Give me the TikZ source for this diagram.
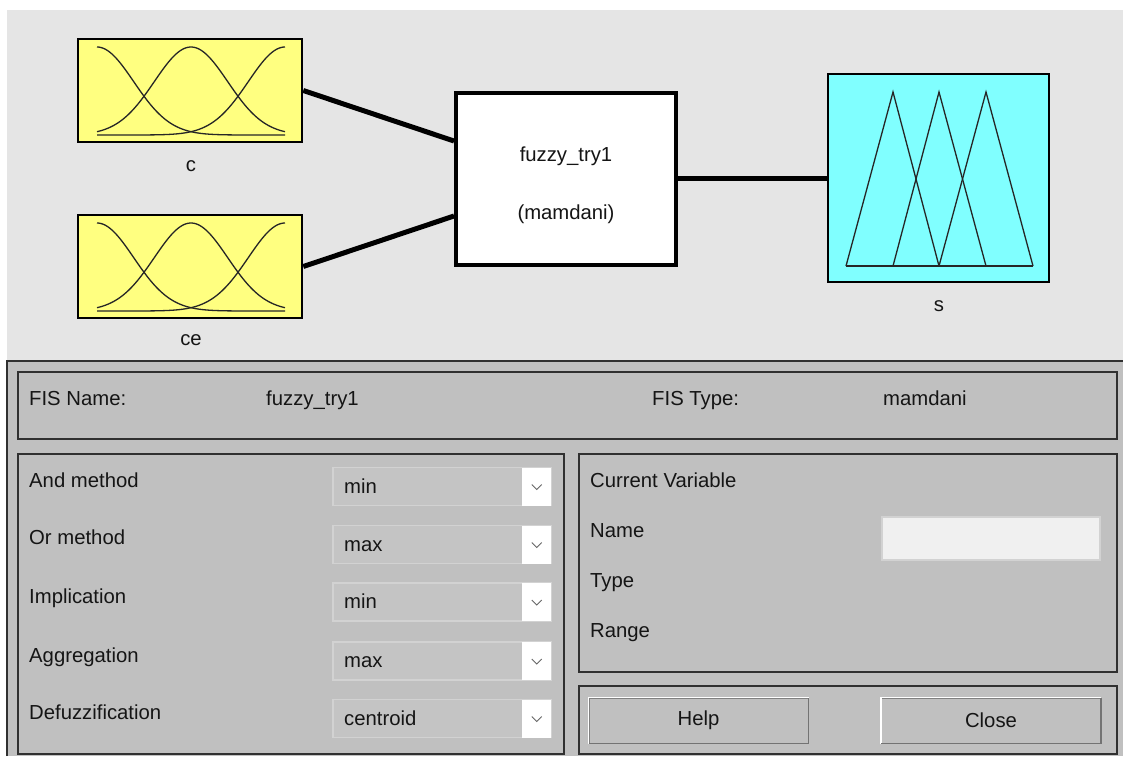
\documentclass[tikz,border=0pt]{standalone}
\usepackage{fontspec}
\setmainfont{Liberation Sans}
\definecolor{topbg}{HTML}{E5E5E5}
\definecolor{panel}{HTML}{C0C0C0}
\definecolor{fyellow}{HTML}{FFFF80}
\definecolor{fcyan}{HTML}{80FFFF}
\definecolor{frame}{HTML}{303030}
\definecolor{combofill}{HTML}{C4C4C4}
\definecolor{comboedge}{HTML}{D2D2D2}
\definecolor{fieldfill}{HTML}{F0F0F0}
\definecolor{txt}{HTML}{151515}
\begin{document}
\begin{tikzpicture}[x=1pt,y=-1pt,
  font=\fontsize{20.3}{23}\selectfont, text=txt,
  varbox/.style={draw=black, line width=2.6pt, inner sep=0pt},
  fisbox/.style={draw=black, line width=4pt, fill=white, inner sep=0pt, align=center},
  conn/.style={line width=5pt, black},
  mf/.style={line width=1.3pt, black!85},
  panelbox/.style={draw=frame, line width=1.6pt, fill=panel, inner sep=0pt},
  combo/.style={draw=comboedge, line width=1.5pt, fill=combofill, inner sep=0pt, minimum width=218pt, minimum height=38pt},
  btn/.style={draw=gray, line width=1pt, fill=panel, inner sep=0pt, minimum width=219pt, minimum height=45pt},
  lbl/.style={anchor=base west, inner sep=0pt},
  captxt/.style={inner sep=0pt}
]
\useasboundingbox (0,0) rectangle (1123,756);
\fill[white] (0,0) rectangle (1123,756);
\fill[topbg] (7,10) rectangle (1123,361);
\fill[panel] (7,361) rectangle (1123,756);
\draw[frame, line width=1.6pt] (7,756) -- (7,361) -- (1123,361);

% ---- top diagram ----
\node[varbox, fill=fyellow, minimum width=224pt, minimum height=103pt] (c) at (190,90.5) {};
\node[varbox, fill=fyellow, minimum width=224pt, minimum height=103pt] (ce) at (190,266.5) {};
\node[fisbox, minimum width=220pt, minimum height=172pt] (fis) at (566,179) {};
\node[varbox, fill=fcyan, minimum width=221pt, minimum height=208pt] (s) at (938.5,178) {};

\node[captxt] (clab) at (191,166) {c};
\node[captxt] (celab) at (191,340) {ce};
\node[captxt] (slab) at (939,306) {s};
\node[captxt, anchor=base] (fisname1) at (566,161) {fuzzy\_try1};
\node[captxt, anchor=base] (fistype1) at (566,219) {(mamdani)};

% gaussian membership functions
\foreach \dy in {0,176}{
  \foreach \m in {97,191,285}{
    \draw[mf] plot[domain=97:285, samples=90, smooth]
      (\x, {135+\dy-88*exp(-0.5*((\x-\m)/36.7)^2)});
  }
}
% triangular membership functions
\draw[mf] (846,266) -- (893,92) -- (939,266);
\draw[mf] (893,266) -- (939,92) -- (986,266);
\draw[mf] (939,266) -- (986,92) -- (1033,266);
\draw[mf] (846,266) -- (1033,266);

% connectors
\draw[conn] (c.east) -- ([yshift=38pt]fis.west);
\draw[conn] (ce.east) -- ([yshift=-37pt]fis.west);
\draw[conn] (s.west -| fis.east) -- (s.west);

% ---- bottom panel ----
\node[panelbox, minimum width=1099pt, minimum height=67pt] (namebox) at (567.5,405.5) {};
\node[panelbox, minimum width=546pt, minimum height=300pt] (methbox) at (291,604) {};
\node[panelbox, minimum width=538pt, minimum height=218pt] (varpanel) at (848,563) {};
\node[panelbox, minimum width=538pt, minimum height=68pt] (btnbox) at (848,720) {};

\node[lbl] (fisnamelbl) at (29,405) {FIS Name:};
\node[lbl] (fisnameval) at (266,405) {fuzzy\_try1};
\node[lbl] (fistypelbl) at (652,405) {FIS Type:};
\node[lbl] (fistypeval) at (883,405) {mamdani};

\node[lbl] (andm) at (29,487) {And method};
\node[lbl] (orm) at (29,544) {Or method};
\node[lbl] (impl) at (29,603) {Implication};
\node[lbl] (aggr) at (29,662) {Aggregation};
\node[lbl] (defz) at (29,719) {Defuzzification};

\foreach \i/\y/\t in {1/486.5/min, 2/544.5/max, 3/602/min, 4/661/max, 5/718.5/centroid}{
  \node[combo] (cb\i) at (442,\y) {};
  \fill[white] ([xshift=-30pt,yshift=-0.75pt]cb\i.north east) rectangle ([xshift=-0.75pt,yshift=0.75pt]cb\i.south east);
  \draw[black!60, line width=0.9pt] ([xshift=-20pt,yshift=2pt]cb\i.east) -- ([xshift=-15pt,yshift=-3pt]cb\i.east) -- ([xshift=-10pt,yshift=2pt]cb\i.east);
  \node[lbl] (cbt\i) at (344,{\y+6.5}) {\t};
}

\node[lbl] (curvar) at (590,487) {Current Variable};
\node[lbl] (vname) at (590,537) {Name};
\node[lbl] (vtype) at (590,587) {Type};
\node[lbl] (vrange) at (590,637) {Range};
\node[draw=comboedge, line width=1.2pt, fill=fieldfill, minimum width=218pt, minimum height=43pt, inner sep=0pt] (namefield) at (991,538.5) {};

\node[btn] (help) at (698.5,720.5) {Help};
\node[btn] (close) at (991,720.5) {Close};
\foreach \b in {help,close}{
  \draw[white, line width=1.5pt] (\b.south west) -- (\b.north west) -- (\b.north east);
  \draw[black!55, line width=1.5pt] (\b.south west) -- (\b.south east) -- (\b.north east);
}
\end{tikzpicture}
\end{document}
